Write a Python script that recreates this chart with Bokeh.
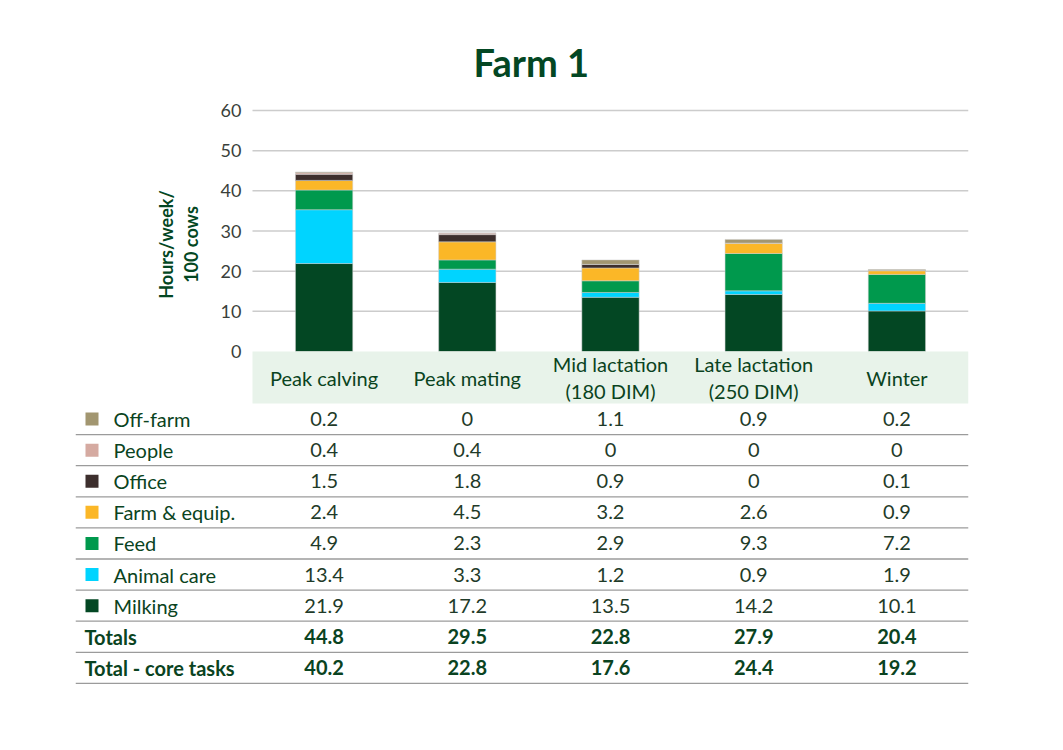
import math
from bokeh.plotting import figure
from bokeh.models import Range1d, ColumnDataSource, Title
from bokeh.core.properties import value
from bokeh.embed import file_html
from bokeh.resources import INLINE

# ---------------- data ----------------
categories = ["Peak calving", "Peak mating", "Mid lactation (180 DIM)",
              "Late lactation (250 DIM)", "Winter"]
category_labels = ["Peak calving", "Peak mating", "Mid lactation\n(180 DIM)",
                   "Late lactation\n(250 DIM)", "Winter"]
series = ["Milking", "Animal care", "Feed", "Farm & equip.", "Office", "People", "Off-farm"]
milking = [21.9, 17.2, 13.5, 14.2, 10.1]
animal_care = [13.4, 3.3, 1.2, 0.9, 1.9]
feed = [4.9, 2.3, 2.9, 9.3, 7.2]
farm_equip = [2.4, 4.5, 3.2, 2.6, 0.9]
office = [1.5, 1.8, 0.9, 0, 0.1]
people = [0.4, 0.4, 0, 0, 0]
off_farm = [0.2, 0, 1.1, 0.9, 0.2]
totals = [44.8, 29.5, 22.8, 27.9, 20.4]
core_totals = [40.2, 22.8, 17.6, 24.4, 19.2]
y_ticks = [0, 10, 20, 30, 40, 50, 60]
title_text = "Farm 1"
y_label = "Hours/week/\n100 cows"

# ---------------- styles / layout constants ----------------
colors = ["#034723", "#00d4ff", "#00994d", "#fbb727", "#3d2f2d", "#d5aaa1", "#a29670"]
FONT = "Lato"
DARK = "#0a4321"
VAL = "#1f3b29"
values = [milking, animal_care, feed, farm_equip, office, people, off_farm]

W, H = 1047, 734
FR_L, FR_R, FR_T, FR_B = 75, 968, 100, 700      # frame edges in pixels
X0_PX = 252                                     # left of first category column
PX = (FR_R - X0_PX) / len(categories)           # pixels per category
Y0_PX, Y60_PX = 351, 110
PXY = (Y0_PX - Y60_PX) / 60.0                   # pixels per hour unit
ROW = 31.1 / PXY                                # table row height in y units
BAND = 52 / PXY                                 # category band height


def xu(px):
    return (px - X0_PX) / PX


def yu(px):
    return (Y0_PX - px) / PXY


p = figure(width=W, height=H,
           x_range=Range1d(xu(FR_L), xu(FR_R)), y_range=Range1d(yu(FR_B), yu(FR_T)),
           output_backend="svg", toolbar_location=None,
           min_border_left=FR_L, min_border_right=W - FR_R,
           min_border_top=FR_T, min_border_bottom=H - FR_B)
p.axis.visible = False
p.grid.visible = False
p.outline_line_color = None

n = len(categories)
xc = [i + 0.5 for i in range(n)]

# gridlines from the tick values
gy = y_ticks[1:]
p.segment(x0=[0] * len(gy), x1=[n] * len(gy), y0=gy, y1=gy,
          line_color="#cccccc", line_width=1.5)

# stacked bars
src = ColumnDataSource(dict(x=xc, **{s: v for s, v in zip(series, values)}))
p.vbar_stack(series, x="x", width=0.4, color=colors, source=src,
             line_color="#cfcfcf", line_width=0.5)

# y tick labels
p.text(x=[xu(241)] * len(y_ticks), y=y_ticks, text=[str(t) for t in y_ticks],
       text_align="right", text_baseline="middle", text_font=value(FONT),
       text_font_size="18px", text_color="#3a3f3b")
# y axis label
p.text(x=[xu(178)], y=[yu(244)], text=[y_label], angle=math.pi / 2,
       text_align="center", text_baseline="middle", text_font=value(FONT),
       text_font_size="18px", text_font_style="bold", text_color="#034723",
       text_line_height=1.1)

# category band
p.quad(left=0, right=n, top=0, bottom=-BAND, fill_color="#e8f3ea", line_color=None)
p.text(x=xc, y=[-BAND / 2] * n, text=category_labels, text_align="center",
       text_baseline="middle", text_font=value(FONT), text_font_size="20px",
       text_color=DARK, text_line_height=1.1)


def fmt(v):
    return f"{v:g}"


rows = list(reversed(list(zip(series, values, colors))))
for k, (name, vals, col) in enumerate(rows):
    yc = -BAND - (k + 0.5) * ROW
    p.scatter(x=[xu(91.5)], y=[yc], marker="square", size=13,
              fill_color=col, line_color=None)
    p.text(x=[xu(113)], y=[yc], text=[name], text_align="left",
           text_baseline="middle", text_font=value(FONT), text_font_size="20px",
           text_color=DARK)
    p.text(x=xc, y=[yc] * n, text=[fmt(v) for v in vals], text_align="center",
           text_baseline="middle", text_font=value(FONT), text_font_size="20px",
           text_color=VAL)

for j, (name, vals) in enumerate([("Totals", totals), ("Total - core tasks", core_totals)]):
    yc = -BAND - (len(rows) + j + 0.5) * ROW
    p.text(x=[xu(84)], y=[yc], text=[name], text_align="left",
           text_baseline="middle", text_font=value(FONT), text_font_size="20px",
           text_font_style="bold", text_color=DARK)
    p.text(x=xc, y=[yc] * n, text=[fmt(v) for v in vals], text_align="center",
           text_baseline="middle", text_font=value(FONT), text_font_size="20px",
           text_font_style="bold", text_color=DARK)

n_rows = len(rows) + 2
line_y = [-BAND - (k + 1) * ROW for k in range(n_rows)]
p.segment(x0=[xu(FR_L)] * n_rows, x1=[n] * n_rows, y0=line_y, y1=line_y,
          line_color="#9b9b9b", line_width=1.3)

p.add_layout(Title(text=title_text, align="left", offset=473 - FR_L, text_font=FONT,
                   text_font_size="38px", text_font_style="bold",
                   text_color="#034723", standoff=31), "above")

open("out.html", "w").write(file_html(p, INLINE))
